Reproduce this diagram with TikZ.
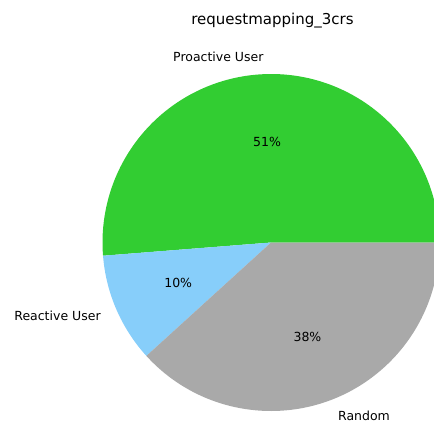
\documentclass[tikz,border=0pt]{standalone}
\usepackage{fontspec}
\setmainfont{DejaVu Sans}
\definecolor{limegreen}{RGB}{50,205,50}
\definecolor{lightskyblue}{RGB}{135,206,250}
\definecolor{darkgrey}{RGB}{169,169,169}
\tikzset{
  wedgelabel/.style={inner sep=0pt, font=\fontsize{10}{12}\selectfont},
  pctlabel/.style={inner sep=0pt, font=\fontsize{10}{12}\selectfont},
  charttitle/.style={inner sep=0pt, font=\fontsize{12}{14}\selectfont},
}

\begin{document}
\begin{tikzpicture}[x=0.8pt,y=0.8pt]
  \useasboundingbox (-271,-183.5) rectangle (163,242.5);
  \coordinate (c) at (0,0);%

  % wedges, counter-clockwise from the east
  \fill[limegreen] (c) -- (0:168.5) arc[start angle=0, end angle=184.5, radius=168.5] -- cycle;%
  \fill[lightskyblue] (c) -- (184.5:168.5) arc[start angle=184.5, end angle=222.3, radius=168.5] -- cycle;%
  \fill[darkgrey] (c) -- (222.3:168.5) arc[start angle=222.3, end angle=360, radius=168.5] -- cycle;%

  % names outside the pie
  \node[wedgelabel, anchor=east] (proactive) at (92.25:185.35) {Proactive User};%
  \node[wedgelabel, anchor=east] (reactive) at (203.4:185.35) {Reactive User};%
  \node[wedgelabel, anchor=west] (random) at (291.15:185.35) {Random};%

  % shares inside
  \node[pctlabel] (pctproactive) at (92.25:101.1) {51\%};%
  \node[pctlabel] (pctreactive) at (203.4:101.1) {10\%};%
  \node[pctlabel] (pctrandom) at (291.15:101.1) {38\%};%

  % title
  \node[charttitle, anchor=base] (title) at (1.5,218) {requestmapping\_3crs};%
\end{tikzpicture}
\end{document}
